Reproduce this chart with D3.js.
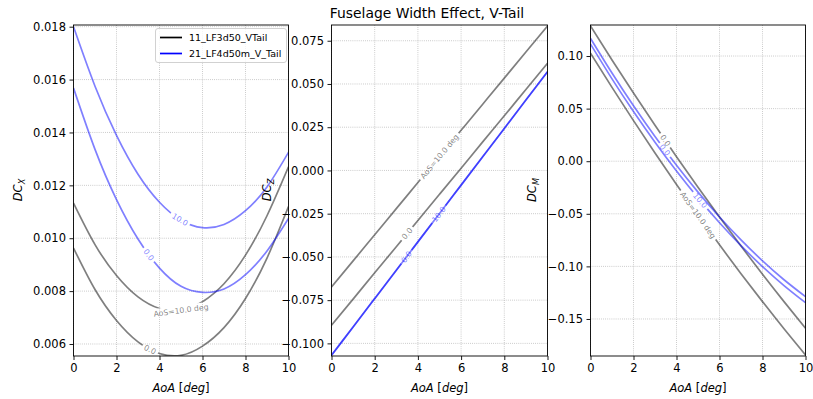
<!DOCTYPE html>
<html><head><meta charset="utf-8">
<script src="https://cdn.jsdelivr.net/npm/d3@7"></script>
<style>body{margin:0;background:#fff} text{font-family:"DejaVu Sans",sans-serif}</style>
</head><body><svg id="c" width="813" height="399"></svg>
<script>
// ---------------- data ----------------
const alpha = [0,1,2,3,4,5,6,7,8,9,10];
const xTicks = [0,2,4,6,8,10];
const seriesNames = ["11_LF3d50_VTail","21_LF4d50m_V_Tail"];
const aosLevels = ["0.0","10.0"];

// DCx
const dcx_LF3_aos0  = [0.00963,0.00806,0.00689,0.00608,0.00564,0.00557,0.00592,0.00662,0.00772,0.00925,0.01120];
const dcx_LF3_aos10 = [0.01133,0.00976,0.00859,0.00778,0.00734,0.00727,0.00760,0.00828,0.00936,0.01085,0.01270];
const dcx_LF4_aos0  = [0.01568,0.01336,0.01146,0.00997,0.00887,0.00818,0.00795,0.00808,0.00862,0.00952,0.01075];
const dcx_LF4_aos10 = [0.01800,0.01575,0.01389,0.01242,0.01136,0.01068,0.01040,0.01052,0.01104,0.01194,0.01325];
const dcxTicks = [0.006,0.008,0.010,0.012,0.014,0.016,0.018];

// DCz
const dcz_LF3_aos0  = [-0.0895,-0.0744,-0.0592,-0.0441,-0.0289,-0.0138,0.0013,0.0165,0.0316,0.0468,0.0619];
const dcz_LF3_aos10 = [-0.0674,-0.0523,-0.0372,-0.0221,-0.0070,0.0081,0.0232,0.0383,0.0534,0.0685,0.0835];
const dcz_LF4_aos0  = [-0.1069,-0.0905,-0.0741,-0.0577,-0.0413,-0.0249,-0.0085,0.0079,0.0243,0.0407,0.0571];
const dcz_LF4_aos10 = [-0.1069,-0.0905,-0.0741,-0.0577,-0.0413,-0.0249,-0.0085,0.0079,0.0243,0.0407,0.0571];
const dczTicks = [-0.100,-0.075,-0.050,-0.025,0.000,0.025,0.050,0.075];

// DCm
const dcm_LF3_aos0  = [0.1285,0.0963,0.0649,0.0342,0.0043,-0.0248,-0.0531,-0.0807,-0.1075,-0.1335,-0.1588];
const dcm_LF3_aos10 = [0.1026,0.0702,0.0386,0.0078,-0.0221,-0.0512,-0.0795,-0.1069,-0.1335,-0.1593,-0.1842];
const dcm_LF4_aos0  = [0.1168,0.0838,0.0527,0.0235,-0.0039,-0.0294,-0.0530,-0.0748,-0.0947,-0.1127,-0.1288];
const dcm_LF4_aos10 = [0.1114,0.0783,0.0472,0.0180,-0.0094,-0.0349,-0.0585,-0.0803,-0.1002,-0.1182,-0.1345];
const dcmTicks = [-0.15,-0.10,-0.05,0.00,0.05,0.10];

// ---------------- layout ----------------
const svg = d3.select("#c");
const Y0 = 25, Y1 = 356;
const GRAY = "black", BLUE = "blue";
const LW = 1.7, CL_FS = 7.7, TICK_FS = 11.5;

const panels = [
  {x0:73.5, x1:288.5, dom:[0.005546,0.018064], ticks:dcxTicks, fmt:d3.format(".3f"), sub:"X", labX:18,
   series:[
     {v:dcx_LF3_aos0,  c:GRAY, lab:"0.0", at:3.56},
     {v:dcx_LF3_aos10, c:GRAY, lab:"AoS=10.0 deg", at:5.0},
     {v:dcx_LF4_aos0,  c:BLUE, lab:"0.0", at:3.5},
     {v:dcx_LF4_aos10, c:BLUE, lab:"10.0", at:4.95}]},
  {x0:331.5, x1:547.5, dom:[-0.1073,0.0841], ticks:dczTicks, fmt:d3.format(".3f"), sub:"Z", labX:267,
   series:[
     {v:dcz_LF3_aos0,  c:GRAY, lab:"0.0", at:3.5},
     {v:dcz_LF3_aos10, c:GRAY, lab:"AoS=10.0 deg", at:5.0},
     {v:dcz_LF4_aos0,  c:BLUE, lab:"0.0", at:3.47},
     {v:dcz_LF4_aos10, c:BLUE, lab:"10.0", at:4.97}]},
  {x0:590.5, x1:805.5, dom:[-0.1852,0.1295], ticks:dcmTicks, fmt:d3.format(".2f"), sub:"M", labX:532,
   series:[
     {v:dcm_LF3_aos0,  c:GRAY, lab:"0.0", at:3.48},
     {v:dcm_LF3_aos10, c:GRAY, lab:"AoS=10.0 deg", at:5.0},
     {v:dcm_LF4_aos0,  c:BLUE, lab:"0.0", at:3.46},
     {v:dcm_LF4_aos10, c:BLUE, lab:"10.0", at:5.1}]}
];

const defs = svg.append("defs");
let maskId = 0;

function lengthAtX(node, x){
  let lo=0, hi=node.getTotalLength();
  for(let i=0;i<40;i++){const m=(lo+hi)/2; if(node.getPointAtLength(m).x<x) lo=m; else hi=m;}
  return (lo+hi)/2;
}

panels.forEach((p,pi)=>{
  const xs = d3.scaleLinear().domain([0,10]).range([p.x0,p.x1]);
  const ys = d3.scaleLinear().domain(p.dom).range([Y1,Y0]);
  const g = svg.append("g");

  // grid
  g.append("g").selectAll("line").data(xTicks).join("line")
    .attr("x1",d=>xs(d)).attr("x2",d=>xs(d)).attr("y1",Y0).attr("y2",Y1)
    .attr("stroke","#b0b0b0").attr("stroke-width",0.8).attr("stroke-dasharray","0.8,1.3");
  g.append("g").selectAll("line").data(p.ticks).join("line")
    .attr("x1",p.x0).attr("x2",p.x1).attr("y1",d=>ys(d)).attr("y2",d=>ys(d))
    .attr("stroke","#b0b0b0").attr("stroke-width",0.8).attr("stroke-dasharray","0.8,1.3");

  // clip
  const cid = "clip"+pi;
  defs.append("clipPath").attr("id",cid).append("rect")
    .attr("x",p.x0).attr("y",Y0).attr("width",p.x1-p.x0).attr("height",Y1-Y0);
  const lg = g.append("g").attr("clip-path",`url(#${cid})`);
  const line = d3.line().x((d,i)=>xs(alpha[i])).y(d=>ys(d)).curve(d3.curveNatural);

  p.series.forEach(s=>{
    const path = lg.append("path").datum(s.v).attr("d",line)
      .attr("fill","none").attr("stroke",s.c).attr("stroke-opacity",0.5).attr("stroke-width",LW);
    const node = path.node();
    const total = node.getTotalLength();
    const t = g.append("text").text(s.lab).attr("font-size",CL_FS)
      .attr("fill",s.c).attr("fill-opacity",0.5).attr("text-anchor","middle").attr("dy","0.35em");
    const w = t.node().getComputedTextLength();
    const L = lengthAtX(node, xs(s.at));
    const half = w/2 + 2.5;
    const c = node.getPointAtLength(L);
    const a1 = node.getPointAtLength(Math.max(0,L-half));
    const a2 = node.getPointAtLength(Math.min(total,L+half));
    const ang = Math.atan2(a2.y-a1.y, a2.x-a1.x)*180/Math.PI;
    const tr = `translate(${c.x},${c.y}) rotate(${ang})`;
    t.attr("transform",tr);
    const id = "m"+(maskId++);
    const m = defs.append("mask").attr("id",id).attr("maskUnits","userSpaceOnUse")
      .attr("x",0).attr("y",0).attr("width",813).attr("height",399);
    m.append("rect").attr("x",0).attr("y",0).attr("width",813).attr("height",399).attr("fill","white");
    m.append("rect").attr("x",-half).attr("y",-5).attr("width",2*half).attr("height",10)
      .attr("transform",tr).attr("fill","black");
    path.attr("mask",`url(#${id})`);
  });

  // axes
  const ax = g.append("g").attr("transform",`translate(0,${Y1})`)
    .call(d3.axisBottom(xs).tickValues(xTicks).tickSize(4).tickPadding(3.5).tickSizeOuter(0));
  const ay = g.append("g").attr("transform",`translate(${p.x0},0)`)
    .call(d3.axisLeft(ys).tickValues(p.ticks).tickFormat(p.fmt).tickSize(4).tickPadding(3.5).tickSizeOuter(0));
  [ax,ay].forEach(a=>{
    a.select(".domain").remove();
    a.selectAll("text").attr("font-size",TICK_FS).attr("font-family","DejaVu Sans").attr("fill","#000");
    a.selectAll("line").attr("stroke","#000").attr("stroke-width",0.9);
  });
  g.append("rect").attr("x",p.x0).attr("y",Y0).attr("width",p.x1-p.x0).attr("height",Y1-Y0)
    .attr("fill","none").attr("stroke","#000").attr("stroke-width",0.9);

  // x label
  const xl = g.append("text").attr("x",(p.x0+p.x1)/2).attr("y",388).attr("dy","0.35em")
    .attr("text-anchor","middle").attr("font-size",TICK_FS);
  xl.append("tspan").attr("font-style","italic").text("AoA");
  xl.append("tspan").text("\u00a0[");
  xl.append("tspan").attr("font-style","italic").text("deg");
  xl.append("tspan").text("]");

  // y label
  const yl = g.append("text").attr("transform",`translate(${p.labX},190) rotate(-90)`)
    .attr("text-anchor","middle").attr("dy","0.35em").attr("font-size",TICK_FS);
  yl.append("tspan").attr("font-style","italic").text("DC");
  yl.append("tspan").attr("font-style","italic").attr("font-size",8.2).attr("dy",3).text(p.sub);
});

// title
svg.append("text").attr("x",427).attr("y",13).attr("dy","0.35em").attr("text-anchor","middle")
  .attr("font-size",13.9).text("Fuselage Width Effect, V-Tail");

// legend
const leg = svg.append("g");
leg.append("rect").attr("x",155.5).attr("y",28.5).attr("width",131).attr("height",34).attr("rx",2.5)
  .attr("fill","white").attr("fill-opacity",0.8).attr("stroke","#cccccc").attr("stroke-width",0.9);
[GRAY,BLUE].forEach((c,i)=>{
  const y = 37.5 + i*16;
  leg.append("line").attr("x1",160).attr("x2",182).attr("y1",y).attr("y2",y).attr("stroke",c).attr("stroke-width",LW);
  leg.append("text").attr("x",189).attr("y",y).attr("dy","0.35em").attr("font-size",9.5).text(seriesNames[i]);
});
</script></body></html>
